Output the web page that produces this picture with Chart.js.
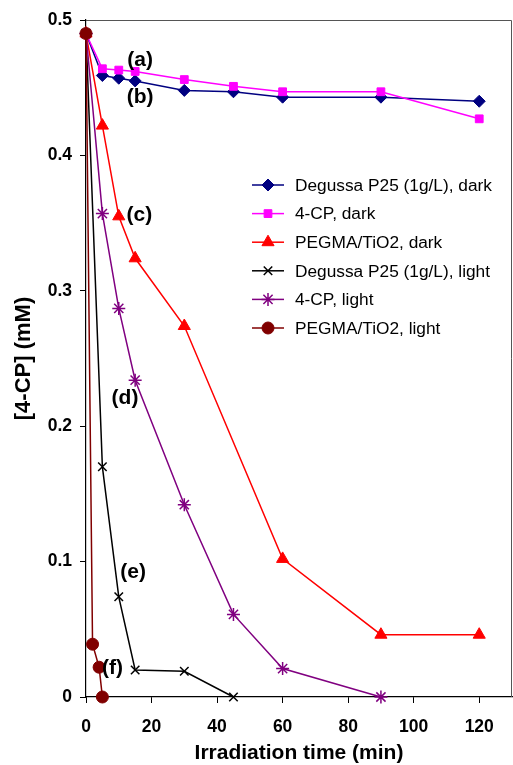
<!DOCTYPE html>
<html>
<head>
<meta charset="utf-8">
<script src="https://cdn.jsdelivr.net/npm/chart.js@4"></script>
<style>
html,body{margin:0;padding:0;background:#fff;}
#wrap{width:513px;height:765px;position:relative;}
</style>
</head>
<body>
<div id="wrap"><canvas id="c" width="513" height="765"></canvas></div>
<script>
// ---- data ----
const seriesNames = [
  "Degussa P25 (1g/L), dark",
  "4-CP, dark",
  "PEGMA/TiO2, dark",
  "Degussa P25 (1g/L), light",
  "4-CP, light",
  "PEGMA/TiO2, light"
];
const timesLong = [0, 5, 10, 15, 30, 45, 60, 90, 120];
const p25Dark   = [0.490, 0.459, 0.457, 0.455, 0.448, 0.447, 0.443, 0.443, 0.440];
const cpDark    = [0.490, 0.464, 0.463, 0.462, 0.456, 0.451, 0.447, 0.447, 0.427];
const pegDark   = [0.490, 0.422, 0.355, 0.324, 0.274, null, 0.102, 0.046, 0.046];
const timesP25Light = [0, 5, 10, 15, 30, 45];
const p25Light  = [0.490, 0.170, 0.074, 0.020, 0.019, 0.000];
const timesCpLight = [0, 5, 10, 15, 30, 45, 60, 90];
const cpLight   = [0.490, 0.357, 0.287, 0.234, 0.142, 0.061, 0.021, 0.000];
const timesPegLight = [0, 2, 4, 5];
const pegLight  = [0.490, 0.039, 0.022, 0.000];
const xTicks = [0, 20, 40, 60, 80, 100, 120];
const yTicks = [0, 0.1, 0.2, 0.3, 0.4, 0.5];
const labelTexts = ["(a)", "(b)", "(c)", "(d)", "(e)", "(f)"];
const labelX = [16.5, 16.5, 16.3, 11.9, 14.4, 8.1];
const labelY = [0.4705, 0.443, 0.356, 0.221, 0.0925, 0.0215];

function pts(xs, ys){
  const out = [];
  for (let i = 0; i < xs.length; i++) if (ys[i] !== null) out.push({x: xs[i], y: ys[i]});
  return out;
}

const styles = [
  {color:'#000080', style:'rectRot', r:6},
  {color:'#FF00FF', style:'rect', r:5.5},
  {color:'#FF0000', style:'triangle', r:7},
  {color:'#000000', style:'crossRot', r:6},
  {color:'#800080', style:'star', r:6.5},
  {color:'#800000', style:'circle', r:6}
];
const dataSets = [
  pts(timesLong, p25Dark),
  pts(timesLong, cpDark),
  pts(timesLong, pegDark),
  pts(timesP25Light, p25Light),
  pts(timesCpLight, cpLight),
  pts(timesPegLight, pegLight)
];
const orders = [5, 4, 3, 2, 1, 0];

const datasets = dataSets.map((d, i) => ({
  label: seriesNames[i],
  data: d,
  borderColor: styles[i].color,
  backgroundColor: styles[i].color,
  pointBackgroundColor: styles[i].color,
  pointBorderColor: styles[i].color,
  pointStyle: styles[i].style,
  pointRadius: styles[i].r,
  pointBorderWidth: (styles[i].style === 'crossRot' || styles[i].style === 'star') ? 1.5 : 1,
  borderWidth: 1.5,
  tension: 0,
  order: orders[i],
  clip: false,
  fill: false
}));

const FONT = "'Liberation Sans', Arial, sans-serif";

const framePlugin = {
  id: 'frame',
  afterDatasetsDraw(chart) {
    const {ctx, chartArea: a, scales} = chart;
    ctx.save();
    ctx.strokeStyle = '#555';
    ctx.lineWidth = 1;
    ctx.beginPath();
    ctx.moveTo(a.left, a.top + 0.5);
    ctx.lineTo(a.right - 0.5, a.top + 0.5);
    ctx.lineTo(a.right - 0.5, a.bottom);
    ctx.stroke();
    // annotation labels
    ctx.fillStyle = '#000';
    ctx.font = "bold 21px " + FONT;
    ctx.textAlign = 'center';
    ctx.textBaseline = 'middle';
    for (let i = 0; i < labelTexts.length; i++) {
      ctx.fillText(labelTexts[i], scales.x.getPixelForValue(labelX[i]), scales.y.getPixelForValue(labelY[i]));
    }
    // legend
    const lx0 = 252, lx1 = 284, tx = 295, y0 = 185, dy = 28.6;
    ctx.font = "17.3px " + FONT;
    ctx.textAlign = 'left';
    for (let i = 0; i < datasets.length; i++) {
      const ds = datasets[i];
      const y = y0 + i * dy;
      ctx.strokeStyle = ds.borderColor;
      ctx.lineWidth = 1.5;
      ctx.beginPath();
      ctx.moveTo(lx0, y);
      ctx.lineTo(lx1, y);
      ctx.stroke();
      ctx.fillStyle = ds.backgroundColor;
      ctx.lineWidth = ds.pointBorderWidth;
      Chart.helpers.drawPoint(ctx, {pointStyle: ds.pointStyle, radius: ds.pointRadius, borderWidth: ds.pointBorderWidth, rotation: 0}, (lx0 + lx1) / 2, y);
      ctx.fillStyle = '#000';
      ctx.fillText(ds.label, tx, y + 1);
    }
    ctx.restore();
  }
};

new Chart(document.getElementById('c'), {
  type: 'line',
  data: { datasets },
  options: {
    responsive: false,
    animation: false,
    devicePixelRatio: 1,
    layout: { autoPadding: false, padding: { top: 20, right: 1, left: 0, bottom: 0 } },
    plugins: { legend: { display: false }, tooltip: { enabled: false } },
    scales: {
      x: {
        type: 'linear',
        min: 0, max: 130,
        afterFit(s) { s.height = 68; s.paddingRight = 0; s.paddingLeft = 0; },
        afterBuildTicks(s) { s.ticks = xTicks.map(v => ({value: v})); },
        grid: { drawOnChartArea: false, color: '#000', tickLength: 6, tickWidth: 1 },
        border: { color: '#000', width: 1.2 },
        ticks: { color: '#000', font: { family: FONT, size: 17.5, weight: 'bold' }, padding: 14, maxRotation: 0 },
        title: { display: true, text: 'Irradiation time (min)', color: '#000', font: { family: FONT, size: 21, weight: 'bold' }, padding: { top: 0, bottom: -1 } }
      },
      y: {
        type: 'linear',
        min: 0, max: 0.5,
        afterFit(s) { s.width = 86; s.paddingTop = 0; s.paddingBottom = 0; },
        afterBuildTicks(s) { s.ticks = yTicks.map(v => ({value: v})); },
        grid: { drawOnChartArea: false, color: '#000', tickLength: 6, tickWidth: 1 },
        border: { color: '#000', width: 1.2 },
        ticks: { color: '#000', font: { family: FONT, size: 17.5, weight: 'bold' }, padding: 8, callback: v => String(Math.round(v * 10) / 10) },
        title: { display: true, text: '[4-CP] (mM)', color: '#000', font: { family: FONT, size: 22, weight: 'bold' }, padding: { top: 11, bottom: 0 } }
      }
    }
  },
  plugins: [framePlugin]
});
</script>
</body>
</html>
